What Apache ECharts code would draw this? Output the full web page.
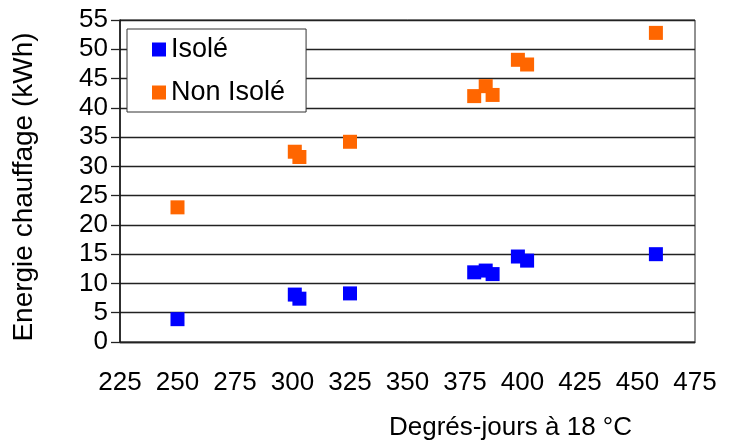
<!DOCTYPE html>
<html>
<head>
<meta charset="utf-8">
<script src="https://cdn.jsdelivr.net/npm/echarts@6/dist/echarts.min.js"></script>
<style>
  html, body { margin: 0; padding: 0; background: #fff; }
  #chart { width: 730px; height: 443px; }
</style>
</head>
<body>
<div id="chart"></div>
<script>
// Heating energy versus degree-days, insulated and non-insulated
const degreeDays    = [250, 301, 303, 325, 379, 384, 387, 398, 402, 458];
const isole         = [3.9, 8.1, 7.4, 8.3, 11.9, 12.2, 11.6, 14.6, 13.9, 15.0];
const nonIsole      = [23.0, 32.5, 31.6, 34.2, 42.0, 43.7, 42.2, 48.2, 47.4, 52.8];
const seriesNames   = ['Isolé', 'Non Isolé'];
const seriesColors  = ['#0000FF', '#FF6600'];
const xTicks        = { min: 225, max: 475, step: 25 };
const yTicks        = { min: 0, max: 55, step: 5 };

const font = 'Liberation Sans, Arial, sans-serif';
const pairs = vals => degreeDays.map((d, i) => [d, vals[i]]);

const chart = echarts.init(document.getElementById('chart'), null, { renderer: 'canvas' });
chart.setOption({
  animation: false,
  backgroundColor: '#fff',
  textStyle: { fontFamily: font, color: '#000' },
  grid: {
    left: 120, right: 35, top: 20, bottom: 101,
    outerBoundsMode: 'none', containLabel: false,
    show: true, borderColor: '#222', borderWidth: 1, backgroundColor: 'transparent'
  },
  legend: {
    orient: 'vertical',
    left: 127, top: 29,
    padding: [7, 21, 6, 25],
    itemGap: 16,
    itemWidth: 14, itemHeight: 14,
    borderColor: '#333', borderWidth: 1,
    backgroundColor: '#fff',
    icon: 'rect',
    textStyle: { fontFamily: font, fontSize: 27, color: '#000' },
    data: seriesNames
  },
  xAxis: {
    type: 'value',
    min: xTicks.min, max: xTicks.max, interval: xTicks.step,
    name: 'Degrés-jours à 18 °C',
    nameLocation: 'middle',
    nameGap: 73,
    nameTextStyle: { fontFamily: font, fontSize: 26, color: '#000', padding: [0, 0, 0, 206] },
    axisLine: { show: true, lineStyle: { color: '#222', width: 1.3 } },
    axisTick: { show: false },
    splitLine: { show: false },
    axisLabel: { fontFamily: font, fontSize: 26, color: '#000', margin: 28 }
  },
  yAxis: {
    type: 'value',
    min: yTicks.min, max: yTicks.max, interval: yTicks.step,
    name: 'Energie chauffage (kWh)',
    nameLocation: 'middle',
    nameGap: 82,
    nameTextStyle: { fontFamily: font, fontSize: 28, color: '#000', padding: [0, 12, 0, 0] },
    axisLine: { show: true, lineStyle: { color: '#111', width: 1.5 } },
    axisTick: { show: true, inside: false, length: 9, lineStyle: { color: '#222', width: 1.3 } },
    splitLine: { show: true, lineStyle: { color: '#222', width: 1.3 } },
    axisLabel: { fontFamily: font, fontSize: 26, color: '#000', margin: 12 }
  },
  series: [
    {
      name: seriesNames[0], type: 'scatter', symbol: 'rect', symbolSize: 14,
      itemStyle: { color: seriesColors[0], opacity: 1 },
      data: pairs(isole)
    },
    {
      name: seriesNames[1], type: 'scatter', symbol: 'rect', symbolSize: 14,
      itemStyle: { color: seriesColors[1], opacity: 1 },
      data: pairs(nonIsole)
    }
  ]
});
</script>
</body>
</html>
